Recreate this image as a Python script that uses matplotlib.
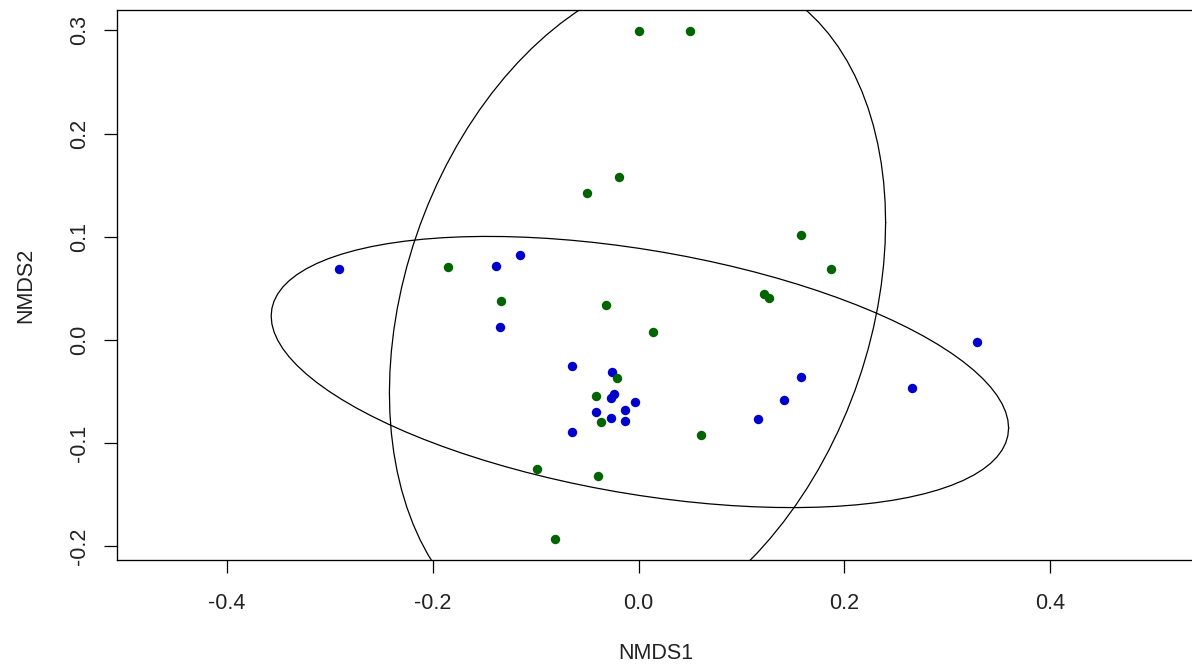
import numpy as np
import matplotlib
matplotlib.use('Agg')
import matplotlib.pyplot as plt

plt.rcParams['font.family'] = ['Liberation Sans', 'DejaVu Sans']

# NMDS site scores, two groups
blue_x = [-0.2916, -0.1387, -0.1157, -0.1348, 0.3286, -0.0651, -0.0257, -0.0240,
          -0.0269, -0.0036, -0.0418, -0.0133, -0.0269, -0.0133, -0.0651, 0.1578,
          0.1415, 0.1157, 0.2657]
blue_y = [0.0690, 0.0716, 0.0826, 0.0128, -0.0020, -0.0253, -0.0308, -0.0524,
          -0.0566, -0.0605, -0.0702, -0.0676, -0.0760, -0.0783, -0.0895, -0.0362,
          -0.0579, -0.0769, -0.0469]
green_x = [0.0003, 0.0499, -0.0189, -0.0500, 0.1578, 0.1866, -0.1854, -0.1336,
           -0.0321, 0.0142, 0.1221, 0.1270, -0.0214, -0.0418, -0.0366, 0.0606,
           -0.0991, -0.0393, -0.0814]
green_y = [0.2996, 0.2996, 0.1576, 0.1426, 0.1016, 0.0690, 0.0703, 0.0374,
           0.0335, 0.0074, 0.0445, 0.0409, -0.0366, -0.0541, -0.0798, -0.0922,
           -0.1248, -0.1316, -0.1932]

x_ticks = [-0.4, -0.2, 0.0, 0.2, 0.4]
y_ticks = [-0.2, -0.1, 0.0, 0.1, 0.2, 0.3]

conf = 0.95


def sd_ellipse(x, y, conf, npoints=100):
    # covariance ellipse around the group centroid (kind = "sd")
    x = np.asarray(x)
    y = np.asarray(y)
    cov = np.cov(x, y)
    scale = np.sqrt(-2 * np.log(1 - conf))  # chi-square quantile, 2 df
    theta = np.arange(npoints + 1) * 2 * np.pi / npoints
    circle = np.column_stack([np.cos(theta), np.sin(theta)])
    U = np.linalg.cholesky(cov).T
    pts = circle @ U * scale
    return pts[:, 0] + x.mean(), pts[:, 1] + y.mean()


fig = plt.figure(figsize=(11.92, 6.71), dpi=100)
ax = fig.add_axes([0.0984, 0.1654, 0.9041, 0.8197])

ax.scatter(blue_x, blue_y, s=46, color='#0000CD', linewidths=0, zorder=2)
ax.scatter(green_x, green_y, s=46, color='#006400', linewidths=0, zorder=2)

for gx, gy in [(blue_x, blue_y), (green_x, green_y)]:
    ex, ey = sd_ellipse(gx, gy, conf)
    ax.plot(ex, ey, color='black', linewidth=0.9, zorder=3)

ax.set_xlim(-0.5068, 0.5408)
ax.set_ylim(-0.2133, 0.3197)
ax.set_xticks(x_ticks)
ax.set_yticks(y_ticks)
ax.set_xticklabels(['%.1f' % v for v in x_ticks])
ax.set_yticklabels(['%.1f' % v for v in y_ticks], rotation=90, va='center')

ax.tick_params(direction='out', length=9.4, width=0.9, labelsize=15.5,
               colors='black', labelcolor='#222222')
ax.tick_params(axis='x', pad=14)
ax.tick_params(axis='y', pad=10)
for sp in ax.spines.values():
    sp.set_linewidth(0.95)

ax.set_xlabel('NMDS1', fontsize=15.5, color='#222222', labelpad=21)
ax.set_ylabel('NMDS2', fontsize=15.5, color='#222222', labelpad=24)

fig.savefig('out.png', dpi=100)
